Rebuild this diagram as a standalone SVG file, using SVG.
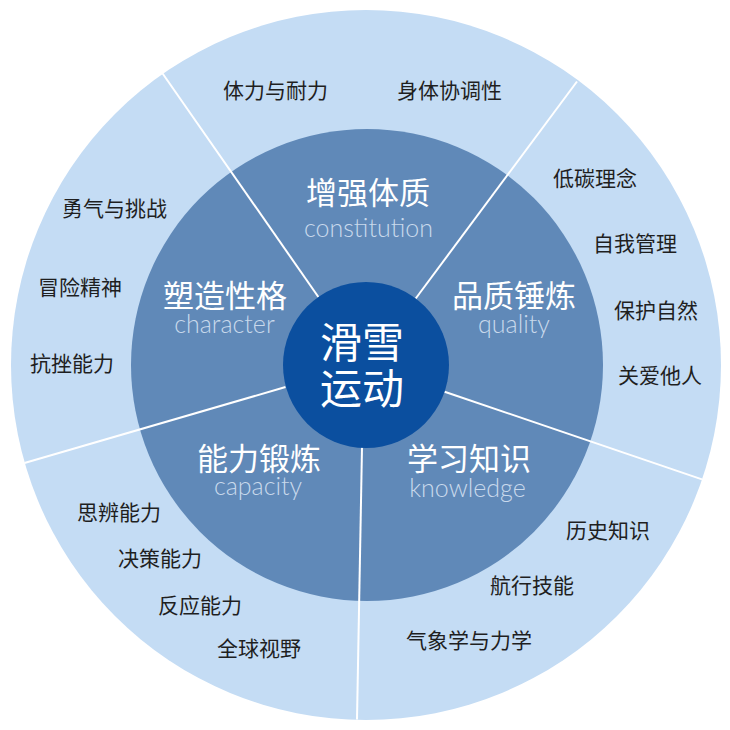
<svg xmlns="http://www.w3.org/2000/svg" width="730" height="730" viewBox="0 0 730 730">
<style>
.item{font-family:"Noto Sans CJK SC","Noto Sans",sans-serif;font-size:21px;fill:#1f1f1f}
.head{font-family:"Noto Sans CJK SC","Noto Sans",sans-serif;font-size:31px;fill:#ffffff;text-anchor:middle}
.en{font-family:Lato,"Open Sans",sans-serif;font-weight:300;font-size:25px;fill:#c9d9ec;text-anchor:middle}
.core{font-family:"Noto Sans CJK SC","Noto Sans",sans-serif;font-size:42px;fill:#ffffff;text-anchor:middle}
.div{stroke:#ffffff;stroke-width:2;fill:none}
</style>
<rect width="730" height="730" fill="#ffffff"/>
<g id="rings">
<circle cx="366" cy="365" r="355" fill="#c4dcf4"/>
<circle cx="367" cy="365" r="236" fill="#6089b8"/>
</g>
<g id="connectors">
<line class="div" x1="318.4" y1="297" x2="162.6" y2="73.5"/>
<line class="div" x1="415.7" y1="298.5" x2="577" y2="81.5"/>
<line class="div" x1="444.6" y1="391.7" x2="702" y2="479.4"/>
<line class="div" x1="362" y1="447" x2="357" y2="719.5"/>
<line class="div" x1="285.5" y1="387" x2="24.5" y2="463"/>
</g>
<g id="center">
<circle cx="366" cy="365" r="83" fill="#0b4f9f"/>
<text class="core" x="362" y="358">滑雪</text>
<text class="core" x="362" y="404">运动</text>
</g>
<g id="constitution">
<text class="head" x="368" y="204">增强体质</text>
<text class="en" x="368.5" y="237">constitution</text>
</g>
<g id="character">
<text class="head" x="225" y="307">塑造性格</text>
<text class="en" x="224.5" y="333">character</text>
</g>
<g id="quality">
<text class="head" x="514" y="307">品质锤炼</text>
<text class="en" x="514" y="333">quality</text>
</g>
<g id="capacity">
<text class="head" x="259" y="470">能力锻炼</text>
<text class="en" x="258" y="495">capacity</text>
</g>
<g id="knowledge">
<text class="head" x="469" y="470">学习知识</text>
<text class="en" x="467.5" y="497">knowledge</text>
</g>
<g id="items-constitution">
<text class="item" x="223" y="98">体力与耐力</text>
<text class="item" x="397" y="98">身体协调性</text>
</g>
<g id="items-quality">
<text class="item" x="553" y="186">低碳理念</text>
<text class="item" x="593" y="251">自我管理</text>
<text class="item" x="614" y="318">保护自然</text>
<text class="item" x="618" y="383">关爱他人</text>
</g>
<g id="items-character">
<text class="item" x="62" y="216">勇气与挑战</text>
<text class="item" x="38" y="295">冒险精神</text>
<text class="item" x="30" y="371">抗挫能力</text>
</g>
<g id="items-capacity">
<text class="item" x="77" y="520">思辨能力</text>
<text class="item" x="118" y="566">决策能力</text>
<text class="item" x="158" y="613">反应能力</text>
<text class="item" x="217" y="656">全球视野</text>
</g>
<g id="items-knowledge">
<text class="item" x="566" y="538">历史知识</text>
<text class="item" x="490" y="593">航行技能</text>
<text class="item" x="406" y="648">气象学与力学</text>
</g>
</svg>
